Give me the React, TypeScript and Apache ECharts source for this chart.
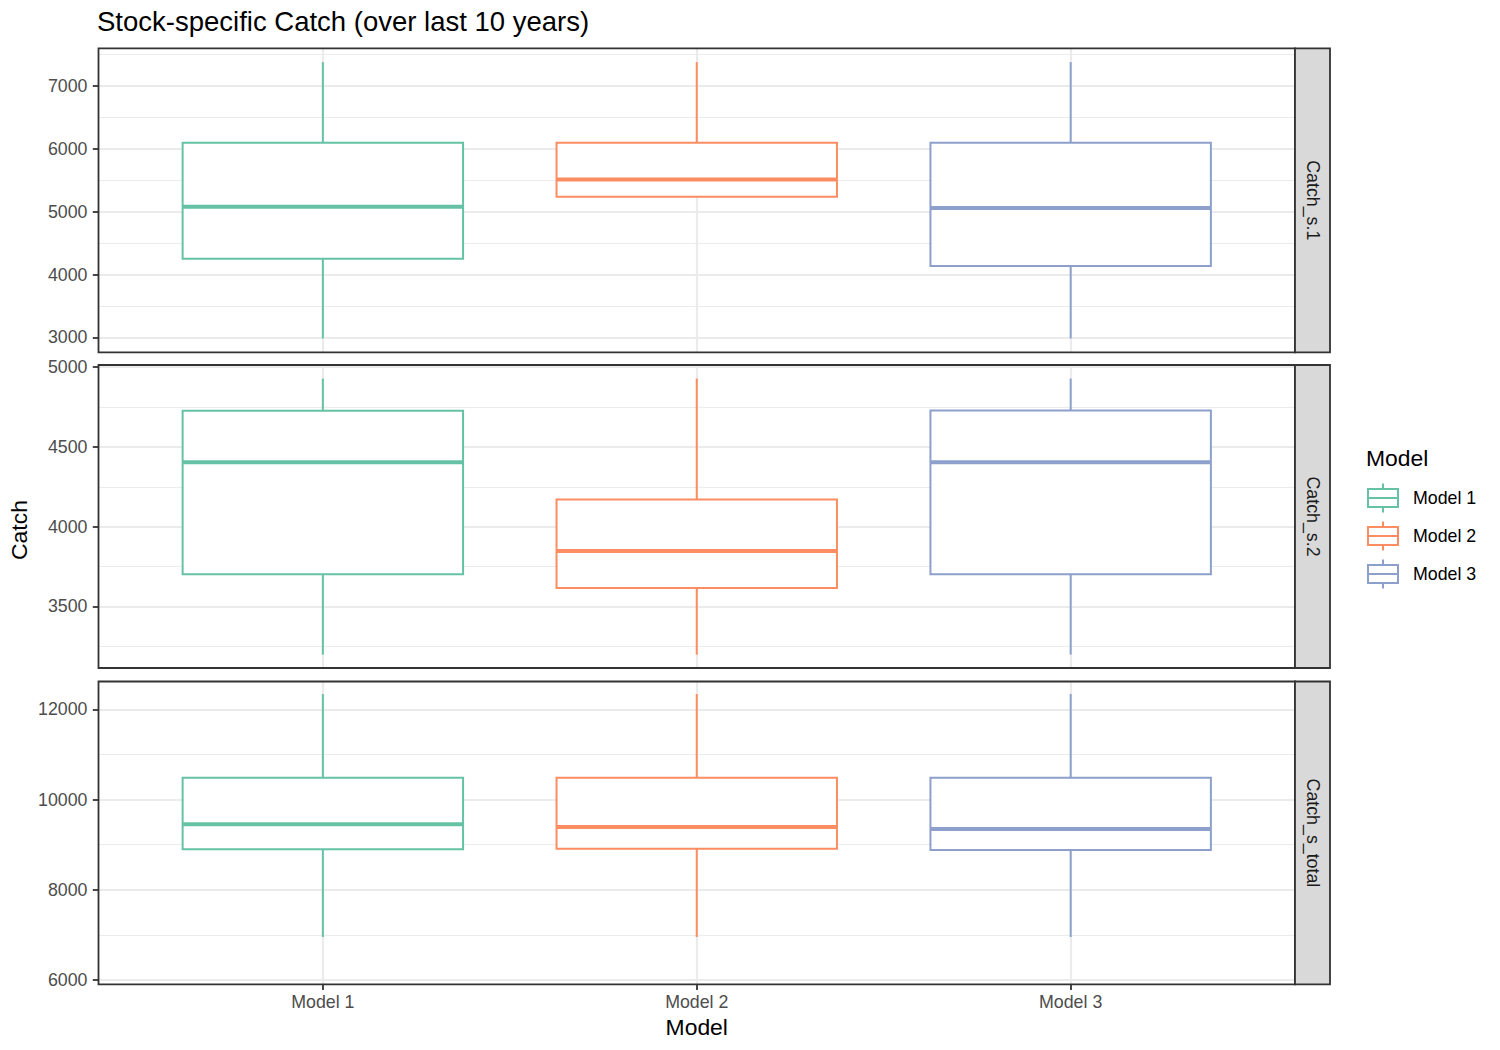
import React, { useEffect, useRef } from 'react';
import * as echarts from 'echarts';

const models = ['Model 1', 'Model 2', 'Model 3'];
const colors = ['#66C2A5', '#FC8D62', '#8DA0CB'];
const panels = ['Catch_s.1', 'Catch_s.2', 'Catch_s_total'];

// each row: [min, q1, median, q3, max] for Model 1, Model 2, Model 3
const catchS1 = [
  [2984, 4254, 5079, 6100, 7382],
  [5238, 5238, 5514, 6100, 7382],
  [2984, 4138, 5059, 6100, 7382],
];
const catchS2 = [
  [3198, 3702, 4404, 4727, 4929],
  [3198, 3615, 3848, 4171, 4929],
  [3198, 3702, 4404, 4729, 4929],
];
const catchTotal = [
  [6953, 8896, 9450, 10483, 12339],
  [6953, 8909, 9392, 10483, 12339],
  [6953, 8880, 9346, 10483, 12339],
];
const panelData = [catchS1, catchS2, catchTotal];

const yRanges = [
  [2764, 7602],
  [3114, 5014],
  [5905, 12616],
];
const yMajorStep = [1000, 500, 2000];
const yTicks1 = [3000, 4000, 5000, 6000, 7000];
const yTicks2 = [3500, 4000, 4500, 5000];
const yTicks3 = [6000, 8000, 10000, 12000];
const yTicks = [yTicks1, yTicks2, yTicks3];
const xTicks = [1, 2, 3];

const FONT = '"Liberation Sans", Arial, Helvetica, sans-serif';
const PANEL_LEFT = 98.5;
const PANEL_RIGHT = 1295;
const STRIP_W = 35;
const panelTops = [48.3, 365, 681.5];
const panelHeights = [304, 303, 302.8];

const LEGEND_ICON =
  'path://M15,0L15,5.5M0,5.5L30,5.5L30,23.5L0,23.5ZM0,14.5L30,14.5M15,23.5L15,29';

function renderBox(color: string) {
  return (params: any, api: any) => {
    const x = api.value(0);
    const pMin = api.coord([x, api.value(1)]);
    const pQ1 = api.coord([x, api.value(2)]);
    const pMed = api.coord([x, api.value(3)]);
    const pQ3 = api.coord([x, api.value(4)]);
    const pMax = api.coord([x, api.value(5)]);
    const hw = api.size([0.75, 0])[0] / 2;
    const cx = pMed[0];
    return {
      type: 'group',
      children: [
        {
          type: 'line',
          shape: { x1: cx, y1: pMax[1], x2: cx, y2: pQ3[1] },
          style: { stroke: color, lineWidth: 2 },
        },
        {
          type: 'line',
          shape: { x1: cx, y1: pQ1[1], x2: cx, y2: pMin[1] },
          style: { stroke: color, lineWidth: 2 },
        },
        {
          type: 'rect',
          shape: { x: cx - hw, y: pQ3[1], width: hw * 2, height: pQ1[1] - pQ3[1] },
          style: { fill: '#ffffff', stroke: color, lineWidth: 2 },
        },
        {
          type: 'line',
          shape: { x1: cx - hw, y1: pMed[1], x2: cx + hw, y2: pMed[1] },
          style: { stroke: color, lineWidth: 4 },
        },
      ],
    };
  };
}

export default function App() {
  const ref = useRef<HTMLDivElement>(null);

  useEffect(() => {
    if (!ref.current) return;
    const chart = echarts.init(ref.current, undefined, { renderer: 'svg' });

    const grids = panels.map((_, p) => ({
      left: PANEL_LEFT,
      top: panelTops[p],
      width: PANEL_RIGHT - PANEL_LEFT,
      height: panelHeights[p],
      containLabel: false,
    }));

    const xAxes = panels.map((_, p) => ({
      type: 'value',
      gridIndex: p,
      min: 0.4,
      max: 3.6,
      minInterval: 1,
      maxInterval: 1,
      axisLine: { show: false },
      axisTick: {
        show: p === 2,
        customValues: xTicks,
        length: 5.7,
        lineStyle: { color: '#333333', width: 1.8 },
      },
      axisLabel: {
        show: p === 2,
        customValues: xTicks,
        formatter: (v: number) => models[Math.round(v) - 1] ?? '',
        margin: 8.5,
        fontSize: 17.8,
        color: '#4D4D4D',
        fontFamily: FONT,
      },
      splitLine: { show: true, lineStyle: { color: '#EBEBEB', width: 2.2 } },
    }));

    const yAxes = panels.map((_, p) => ({
      type: 'value',
      gridIndex: p,
      min: yRanges[p][0],
      max: yRanges[p][1],
      minInterval: yMajorStep[p],
      maxInterval: yMajorStep[p],
      axisLine: { show: false },
      axisTick: {
        show: true,
        customValues: yTicks[p],
        length: 5.7,
        lineStyle: { color: '#333333', width: 1.8 },
      },
      axisLabel: {
        customValues: yTicks[p],
        formatter: (v: number) => String(v),
        margin: 11,
        fontSize: 17.8,
        color: '#4D4D4D',
        fontFamily: FONT,
      },
      splitLine: { show: true, lineStyle: { color: '#EBEBEB', width: 2.2 } },
      minorTick: { show: false, splitNumber: 2 },
      minorSplitLine: { show: true, lineStyle: { color: '#EBEBEB', width: 1.1 } },
    }));

    const series: any[] = [];
    panels.forEach((_, p) => {
      models.forEach((m, i) => {
        const row = panelData[p][i];
        series.push({
          type: 'custom',
          name: m,
          xAxisIndex: p,
          yAxisIndex: p,
          itemStyle: { color: colors[i] },
          encode: { x: 0, y: [1, 2, 3, 4, 5] },
          data: [[i + 1, ...row]],
          renderItem: renderBox(colors[i]),
          silent: true,
        });
      });
    });

    const graphic: any[] = [];
    panels.forEach((name, p) => {
      const top = panelTops[p];
      const h = panelHeights[p];
      graphic.push({
        type: 'rect',
        z: 100,
        shape: { x: PANEL_LEFT, y: top, width: PANEL_RIGHT - PANEL_LEFT, height: h },
        style: { fill: 'none', stroke: '#333333', lineWidth: 1.8 },
        silent: true,
      });
      graphic.push({
        type: 'rect',
        z: 100,
        shape: { x: PANEL_RIGHT, y: top, width: STRIP_W, height: h },
        style: { fill: '#D9D9D9', stroke: '#333333', lineWidth: 1.8 },
        silent: true,
      });
      graphic.push({
        type: 'text',
        z: 101,
        x: PANEL_RIGHT + STRIP_W / 2,
        y: top + h / 2,
        rotation: -Math.PI / 2,
        style: {
          text: name,
          fill: '#1A1A1A',
          fontSize: 17.8,
          fontFamily: FONT,
          align: 'center',
          verticalAlign: 'middle',
        },
        silent: true,
      });
    });
    graphic.push({
      type: 'text',
      x: 19,
      y: 530,
      rotation: Math.PI / 2,
      style: {
        text: 'Catch',
        fill: '#000000',
        fontSize: 22.9,
        fontFamily: FONT,
        align: 'center',
        verticalAlign: 'middle',
      },
    });
    graphic.push({
      type: 'text',
      x: (PANEL_LEFT + PANEL_RIGHT) / 2,
      y: 1027,
      style: {
        text: 'Model',
        fill: '#000000',
        fontSize: 22.9,
        fontFamily: FONT,
        align: 'center',
        verticalAlign: 'middle',
      },
    });
    graphic.push({
      type: 'text',
      x: 1366,
      y: 458,
      style: {
        text: 'Model',
        fill: '#000000',
        fontSize: 22.9,
        fontFamily: FONT,
        align: 'left',
        verticalAlign: 'middle',
      },
    });

    chart.setOption({
      animation: false,
      backgroundColor: '#ffffff',
      title: {
        text: 'Stock-specific Catch (over last 10 years)',
        left: 97,
        top: 7,
        padding: 0,
        textStyle: { fontSize: 27.5, fontWeight: 'normal', color: '#000000', fontFamily: FONT },
      },
      legend: {
        orient: 'vertical',
        left: 1367,
        top: 482.5,
        padding: 0,
        itemWidth: 30,
        itemHeight: 29,
        itemGap: 7,
        selectedMode: false,
        textStyle: { fontSize: 17.8, color: '#000000', fontFamily: FONT, padding: [0, 0, 0, 10] },
        data: models.map((m, i) => ({
          name: m,
          icon: LEGEND_ICON,
          itemStyle: { color: '#ffffff', borderColor: colors[i], borderWidth: 2 },
        })),
      },
      grid: grids,
      xAxis: xAxes,
      yAxis: yAxes,
      series,
      graphic,
    });

    return () => {
      chart.dispose();
    };
  }, []);

  return (
    <div
      ref={ref}
      style={{ position: 'absolute', left: 0, top: 0, width: 1500, height: 1050 }}
    />
  );
}
